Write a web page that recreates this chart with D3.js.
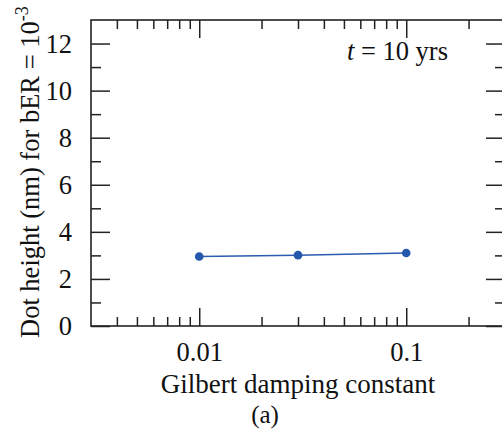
<!DOCTYPE html>
<html><head><meta charset="utf-8">
<script src="https://cdn.jsdelivr.net/npm/d3@7"></script>
<style>body{margin:0;background:#fff}svg{display:block}text{font-family:"Liberation Serif","DejaVu Serif",serif;fill:#111}</style>
</head><body><svg id="c" width="502" height="430"></svg>
<script>
const damping = [0.01, 0.03, 0.1];
const dotHeight = [2.95, 3.01, 3.1];
const xMajor = [0.01, 0.1];
const xMajorLabels = ["0.01", "0.1"];
const xMinor = [0.004,0.005,0.006,0.007,0.008,0.009,0.02,0.03,0.04,0.05,0.06,0.07,0.08,0.09,0.2];
const yMajor = [0,2,4,6,8,10,12];
const yMinor = [1,3,5,7,9,11];

const svg = d3.select("#c");
const m = {l:91, t:20, r:505, b:326};
const x = d3.scaleLog().domain([0.003, 0.3]).range([m.l, m.r]);
const y = d3.scaleLinear().domain([0, 13]).range([m.b, m.t]);
const stroke = "#222";

function style(g){
  g.select(".domain").remove();
  g.selectAll("line").attr("stroke", stroke).attr("stroke-width", 1.5);
  g.selectAll("text").style("font-family", '"Liberation Serif", serif').style("font-size", "26.5px").attr("fill", "#111");
}
// bottom
svg.append("g").attr("transform", `translate(0,${m.b})`)
  .call(d3.axisBottom(x).tickValues(xMajor).tickFormat((d,i)=>xMajorLabels[i]).tickSize(-18).tickPadding(16)).call(style);
svg.append("g").attr("transform", `translate(0,${m.b})`)
  .call(d3.axisBottom(x).tickValues(xMinor).tickFormat("").tickSize(-9)).call(style);
// top
svg.append("g").attr("transform", `translate(0,${m.t})`)
  .call(d3.axisTop(x).tickValues(xMajor).tickFormat("").tickSize(-18)).call(style);
svg.append("g").attr("transform", `translate(0,${m.t})`)
  .call(d3.axisTop(x).tickValues(xMinor).tickFormat("").tickSize(-9)).call(style);
// left
svg.append("g").attr("transform", `translate(${m.l},0)`)
  .call(d3.axisLeft(y).tickValues(yMajor).tickSize(-19).tickPadding(19)).call(style);
svg.append("g").attr("transform", `translate(${m.l},0)`)
  .call(d3.axisLeft(y).tickValues(yMinor).tickFormat("").tickSize(-10)).call(style);
// right
svg.append("g").attr("transform", `translate(${m.r},0)`)
  .call(d3.axisRight(y).tickValues(yMajor).tickFormat("").tickSize(-19)).call(style);
svg.append("g").attr("transform", `translate(${m.r},0)`)
  .call(d3.axisRight(y).tickValues(yMinor).tickFormat("").tickSize(-10)).call(style);

// frame
svg.append("rect").attr("x", m.l).attr("y", m.t).attr("width", m.r-m.l).attr("height", m.b-m.t)
  .attr("fill","none").attr("stroke", stroke).attr("stroke-width", 1.6);

// data
const pts = damping.map((d,i)=>[d, dotHeight[i]]);
svg.append("path").datum(pts)
  .attr("d", d3.line().x(d=>x(d[0])).y(d=>y(d[1])))
  .attr("fill","none").attr("stroke","#2a5cb0").attr("stroke-width",1.5);
svg.selectAll("circle.p").data(pts).join("circle")
  .attr("cx", d=>x(d[0])).attr("cy", d=>y(d[1])).attr("r", 4.3).attr("fill", "#2458ad");

// labels
svg.append("text").attr("x", 298).attr("y", 393).attr("text-anchor","middle")
  .style("font-size","27px").text("Gilbert damping constant");
svg.append("text").attr("x", 265).attr("y", 423).attr("text-anchor","middle")
  .style("font-size","25px").text("(a)");
const ann = svg.append("text").attr("x", 448).attr("y", 60).attr("text-anchor","end").style("font-size","26.5px");
ann.append("tspan").style("font-style","italic").text("t");
ann.append("tspan").text(" = 10 yrs");
const yl = svg.append("text").attr("transform", "translate(39,338) rotate(-90)").attr("text-anchor","start").style("font-size","26.5px");
yl.append("tspan").text("Dot height (nm) for bER = 10");
yl.append("tspan").attr("dy", -11).style("font-size","18px").text("-3");
</script></body></html>
